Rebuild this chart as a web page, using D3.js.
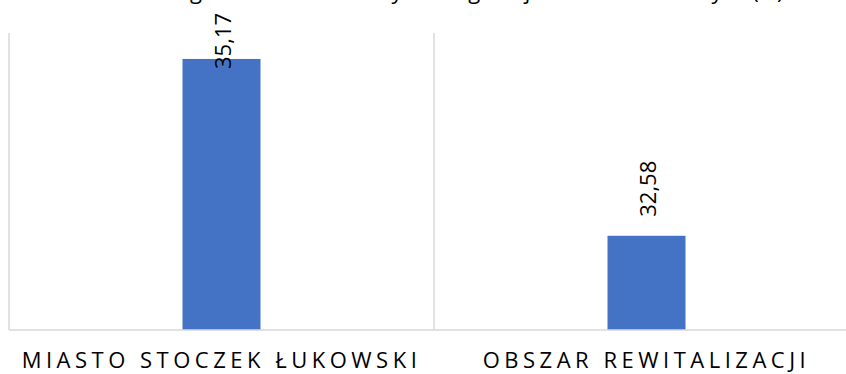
<!DOCTYPE html>
<html>
<head>
<meta charset="utf-8">
<script src="https://cdn.jsdelivr.net/npm/d3@7"></script>
<style>
  body { margin: 0; background: #fff; }
  svg { display: block; font-family: "Open Sans", sans-serif; }
</style>
</head>
<body>
<svg class="bar_chart" width="846" height="374"></svg>
<script>
var titleText = "Udział osób długotrwale bezrobotnych w ogólnej liczbie bezrobotnych (%)";
var categories = ["MIASTO STOCZEK ŁUKOWSKI", "OBSZAR REWITALIZACJI"];
var values = [35.17, 32.58];
var formatValue = function (v) { return v.toFixed(2).replace(".", ","); };

var svg = d3.select("svg.bar_chart"),
    margin = {top: 33, right: -13, bottom: 44, left: 9},
    width = +svg.attr("width") - margin.left - margin.right,
    height = +svg.attr("height") - margin.top - margin.bottom,
    g = svg.append("g").attr("transform", "translate(" + margin.left + "," + margin.top + ")");

var x = d3.scaleBand()
    .domain(categories)
    .range([0, width])
    .paddingInner(0)
    .paddingOuter(0);

var y = d3.scaleLinear()
    .domain([31.2, 35.55])
    .range([height, 0]);

var barWidth = 78;

// title, mostly cut off at the top edge as in the source
svg.append("text")
    .attr("x", 408)
    .attr("y", -1)
    .attr("text-anchor", "middle")
    .style("font-size", "22px")
    .style("fill", "#000")
    .text(titleText);

// category separators
g.selectAll(".sep")
  .data(d3.range(categories.length + 1))
  .enter().append("line")
    .attr("class", "sep")
    .attr("x1", function(i) { return i * x.bandwidth(); })
    .attr("x2", function(i) { return i * x.bandwidth(); })
    .attr("y1", 0)
    .attr("y2", height)
    .style("stroke", "#d9d9d9")
    .style("stroke-width", 1.5);

g.selectAll(".bar")
  .data(values)
  .enter().append("rect")
    .attr("class", "bar")
    .attr("x", function(d, i) { return x(categories[i]) + x.bandwidth() / 2 - barWidth / 2; })
    .attr("y", function(d) { return y(d); })
    .attr("width", barWidth)
    .attr("height", function(d) { return height - y(d); })
    .style("fill", "#4472c4");

// x axis line
g.append("line")
    .attr("x1", 0)
    .attr("x2", width)
    .attr("y1", height)
    .attr("y2", height)
    .style("stroke", "#d9d9d9")
    .style("stroke-width", 1.5);

// value labels, rotated; kept inside the picture at the top
g.selectAll(".label")
  .data(values)
  .enter().append("text")
    .attr("class", "label")
    .style("font-size", "22px")
    .style("fill", "#000")
    .text(function(d) { return formatValue(d); })
    .each(function(d, i) {
      var len = this.getComputedTextLength();
      var start = y(d) - 19;
      if (start - len < -margin.top + 13) start = -margin.top + 13 + len;
      var cx = x(categories[i]) + x.bandwidth() / 2 + 9;
      d3.select(this)
        .attr("transform", "translate(" + cx + "," + start + ") rotate(-90)");
    });

g.selectAll(".cat")
  .data(categories)
  .enter().append("text")
    .attr("class", "cat")
    .attr("x", function(d) { return x(d) + x.bandwidth() / 2; })
    .attr("y", height + 38)
    .attr("text-anchor", "middle")
    .style("font-size", "22px")
    .style("letter-spacing", "4.5px")
    .style("fill", "#000")
    .text(function(d) { return d; });
</script>
</body>
</html>
